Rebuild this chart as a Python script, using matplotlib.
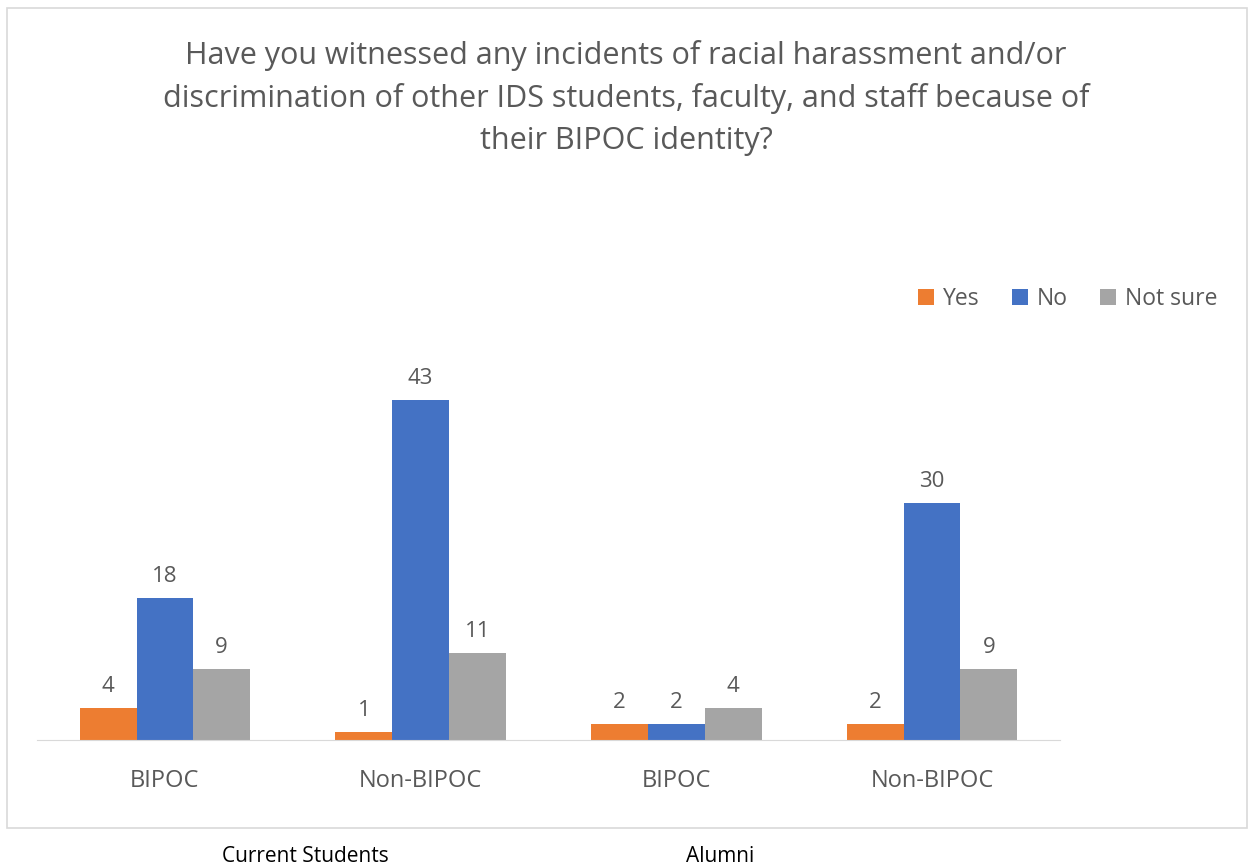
import numpy as np
import matplotlib.pyplot as plt
from matplotlib.patches import Rectangle

plt.rcParams['font.family'] = ['Open Sans', 'DejaVu Sans']

categories = ["BIPOC", "Non-BIPOC", "BIPOC", "Non-BIPOC"]
groups = ["Current Students", "Alumni"]
series = ["Yes", "No", "Not sure"]
yes = [4, 1, 2, 2]
no = [18, 43, 2, 30]
not_sure = [9, 11, 4, 9]
colors = ["#ED7D31", "#4472C4", "#A5A5A5"]

title = ("Have you witnessed any incidents of racial harassment and/or\n"
         "discrimination of other IDS students, faculty, and staff because of\n"
         "their BIPOC identity?")

txt = "#595959"
fig = plt.figure(figsize=(12.52, 8.67), dpi=100)
ax = fig.add_axes([0.0296, 0.1465, 0.817, 0.4556])

x = np.arange(len(categories))
w = 0.222
for i, (name, vals) in enumerate(zip(series, [yes, no, not_sure])):
    pos = x + (i - 1) * w
    bars = ax.bar(pos, vals, w, color=colors[i], label=name)
    for b, v in zip(bars, vals):
        ax.text(b.get_x() + b.get_width() / 2, v + 1.4, str(v), ha='center',
                va='bottom', fontsize=16, color=txt)

ax.set_xlim(-0.5, len(categories) - 0.5)
ax.set_ylim(0, 50)
ax.set_yticks([])
ax.set_xticks(x)
ax.set_xticklabels(categories, fontsize=17, color=txt)
ax.tick_params(axis='x', length=0, pad=21)
for s in ['top', 'right', 'left']:
    ax.spines[s].set_visible(False)
ax.spines['bottom'].set_color('#d9d9d9')

fig.text(0.5, 1 - 40 / 867, title, ha='center', va='top', fontsize=22,
         color=txt, linespacing=1.52)

leg = fig.legend(loc='center', bbox_to_anchor=(0.853, 0.655), ncol=3,
                 frameon=False, fontsize=16.5, handlelength=0.7,
                 handleheight=0.7, columnspacing=1.4, handletextpad=0.4)
for t in leg.get_texts():
    t.set_color(txt)

fig.patches.append(Rectangle((7 / 1252, 1 - 828 / 867), 1240 / 1252, 820 / 867,
                             transform=fig.transFigure, fill=False,
                             edgecolor='#d9d9d9', lw=1.2))

fig.text(305 / 1252, 1 - 856 / 867, groups[0], ha='center', va='center',
         fontsize=15, color='black')
fig.text(720 / 1252, 1 - 856 / 867, groups[1], ha='center', va='center',
         fontsize=15, color='black')

fig.savefig("out.png", dpi=100, facecolor='white')
